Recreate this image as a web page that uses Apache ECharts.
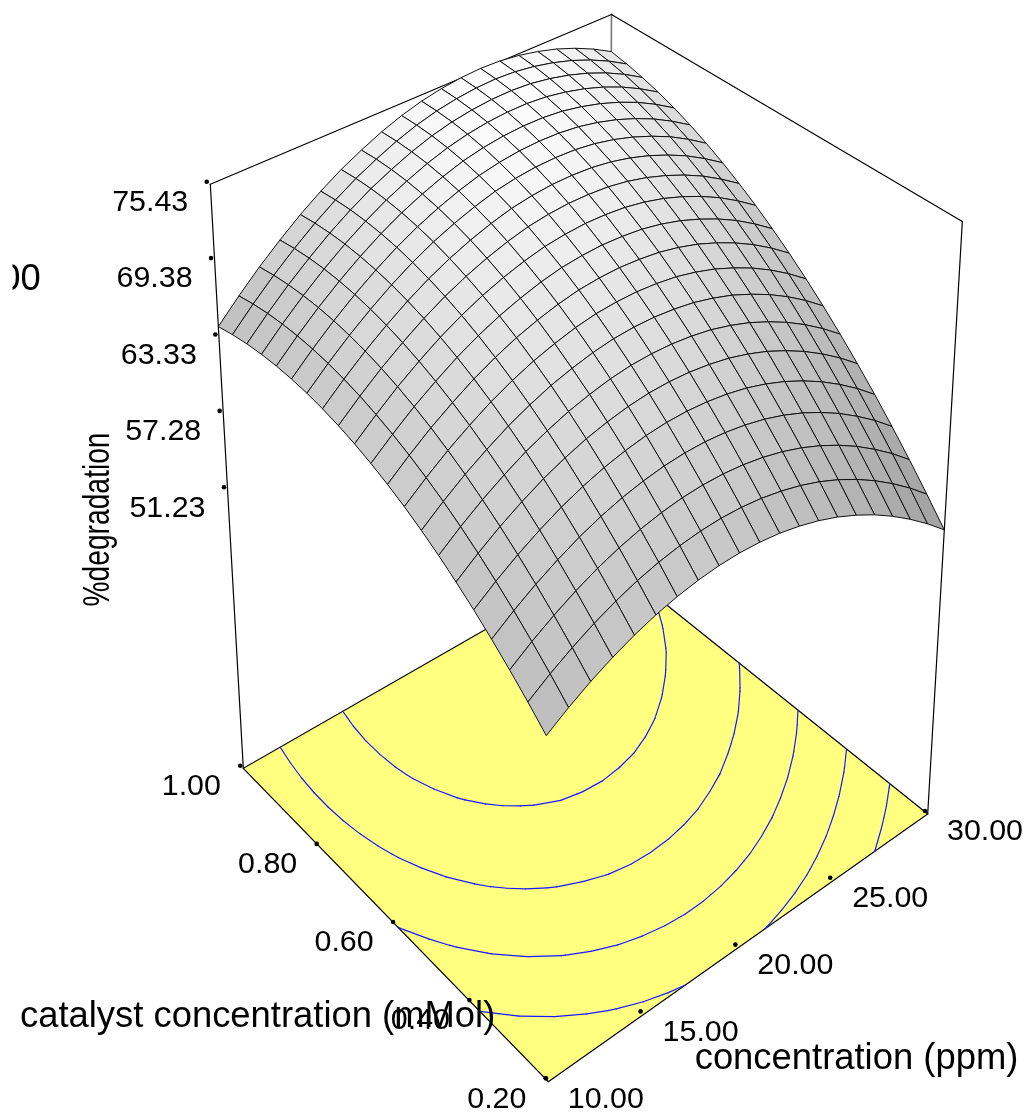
<!DOCTYPE html>
<html>
<head>
<meta charset="utf-8">
<style>html,body{margin:0;padding:0;background:#fff}#c{width:1031px;height:1115px}</style>
<script src="https://cdn.jsdelivr.net/npm/echarts@6/dist/echarts.min.js"></script>
</head>
<body>
<div id="c"></div>
<script>
// ---- data ----
const concentrationGrid = [10,11,12,13,14,15,16,17,18,19,20,21,22,23,24,25,26,27,28,29,30];
const catalystGrid = [0.20,0.24,0.28,0.32,0.36,0.40,0.44,0.48,0.52,0.56,0.60,0.64,0.68,0.72,0.76,0.80,0.84,0.88,0.92,0.96,1.00];
// degradation[catalyst index][concentration index]
const degradation = [
[54.56,55.64,56.59,57.41,58.10,58.66,59.08,59.38,59.55,59.59,59.49,59.27,58.91,58.43,57.82,57.07,56.20,55.19,54.05,52.79,51.39],
[55.86,56.97,57.94,58.79,59.51,60.10,60.55,60.87,61.07,61.14,61.07,60.87,60.54,60.09,59.51,58.79,57.94,56.96,55.85,54.62,53.24],
[57.07,58.21,59.21,60.09,60.84,61.45,61.93,62.28,62.51,62.60,62.56,62.39,62.09,61.67,61.11,60.42,59.60,58.65,57.56,56.36,55.01],
[58.20,59.37,60.40,61.30,62.08,62.72,63.23,63.60,63.86,63.98,63.97,63.82,63.55,63.16,62.63,61.97,61.17,60.25,59.19,58.02,56.69],
[59.25,60.44,61.50,62.43,63.24,63.90,64.44,64.84,65.13,65.28,65.29,65.17,64.93,64.57,64.06,63.43,62.66,61.77,60.74,59.59,58.29],
[60.21,61.43,62.52,63.47,64.31,65.00,65.57,65.99,66.31,66.49,66.53,66.44,66.22,65.89,65.41,64.81,64.06,63.20,62.20,61.08,59.81],
[61.09,62.33,63.45,64.43,65.30,66.01,66.61,67.06,67.41,67.62,67.68,67.62,67.43,67.13,66.67,66.10,65.38,64.55,63.58,62.48,61.24],
[61.88,63.15,64.30,65.30,66.20,66.94,67.57,68.04,68.42,68.66,68.75,68.72,68.55,68.28,67.85,67.31,66.61,65.81,64.87,63.80,62.59],
[62.59,63.88,65.06,66.09,67.02,67.79,68.44,68.94,69.35,69.62,69.73,69.73,69.59,69.35,68.95,68.43,67.76,66.99,66.08,65.03,63.85],
[63.21,64.53,65.74,66.79,67.75,68.55,69.23,69.76,70.19,70.49,70.63,70.66,70.54,70.33,69.96,69.47,68.83,68.08,67.20,66.18,65.03],
[63.75,65.09,66.33,67.41,68.40,69.23,69.93,70.49,70.95,71.28,71.44,71.50,71.41,71.23,70.89,70.42,69.81,69.09,68.24,67.24,66.12],
[64.20,65.57,66.84,67.95,68.96,69.82,70.55,71.14,71.62,71.98,72.17,72.26,72.20,72.04,71.73,71.29,70.71,70.01,69.19,68.22,67.13],
[64.57,65.97,67.26,68.40,69.44,70.33,71.08,71.70,72.21,72.60,72.82,72.93,72.90,72.77,72.49,72.07,71.52,70.85,70.06,69.11,68.05],
[64.85,66.28,67.60,68.77,69.83,70.75,71.53,72.18,72.71,73.13,73.38,73.52,73.52,73.41,73.16,72.77,72.25,71.60,70.84,69.92,68.89],
[65.05,66.51,67.85,69.05,70.14,71.09,71.90,72.57,73.13,73.58,73.86,74.02,74.05,73.97,73.75,73.38,72.89,72.27,71.54,70.65,69.64],
[65.16,66.65,68.02,69.25,70.36,71.34,72.18,72.88,73.47,73.94,74.25,74.44,74.50,74.44,74.25,73.91,73.45,72.86,72.15,71.29,70.31],
[65.19,66.71,68.10,69.36,70.50,71.51,72.38,73.10,73.72,74.22,74.56,74.77,74.86,74.83,74.67,74.35,73.92,73.36,72.68,71.85,70.89],
[65.13,66.68,68.10,69.39,70.56,71.59,72.49,73.24,73.89,74.41,74.78,75.02,75.14,75.14,75.00,74.71,74.31,73.78,73.12,72.32,71.39],
[64.99,66.57,68.02,69.33,70.53,71.59,72.52,73.29,73.97,74.52,74.92,75.18,75.33,75.36,75.25,74.99,74.61,74.11,73.48,72.71,71.80],
[64.76,66.37,67.85,69.19,70.42,71.50,72.46,73.26,73.97,74.54,74.97,75.26,75.44,75.50,75.41,75.18,74.83,74.36,73.75,73.01,72.13],
[64.45,66.09,67.60,68.96,70.22,71.33,72.32,73.14,73.88,74.48,74.94,75.26,75.46,75.55,75.49,75.29,74.96,74.52,73.94,73.23,72.38]
];
const contourLevels = [55.26,59.30,63.33,67.37,71.40];
const degradationTicks = ['75.43','69.38','63.33','57.28','51.23'];
const catalystTicks = ['1.00','0.80','0.60','0.40','0.20'];
const concentrationTicks = ['10.00','15.00','20.00','25.00','30.00'];

// ---- perspective camera of the box ----
const P00=[548.3,1081.7], P10=[927.7,814], P01=[243.3,768.3], P11=[609,558.7], TOPL=184.3, VP=[581,6746];
const dx1=P10[0]-P11[0], dx2=P01[0]-P11[0], sx=P00[0]-P10[0]+P11[0]-P01[0];
const dy1=P10[1]-P11[1], dy2=P01[1]-P11[1], sy=P00[1]-P10[1]+P11[1]-P01[1];
const den=dx1*dy2-dx2*dy1, G=(sx*dy2-dx2*sy)/den, K=(dx1*sy-sx*dy1)/den;
const S=(P01[1]-TOPL)/(TOPL-VP[1])*(1+K);
const BOX_MIN=27.03, BOX_RANGE=48.4;
function camera(u,v,w){
  const h=1+G*u+K*v+w*S;
  const X=P00[0]+(P10[0]*(1+G)-P00[0])*u+(P01[0]*(1+K)-P00[0])*v+w*S*VP[0];
  const Y=P00[1]+(P10[1]*(1+G)-P00[1])*u+(P01[1]*(1+K)-P00[1])*v+w*S*VP[1];
  return [X/h,Y/h];
}
function project(conc,cat,val){
  return camera((conc-10)/20,(cat-0.2)/0.8,(val-BOX_MIN)/BOX_RANGE);
}
const TOPV=BOX_MIN+BOX_RANGE;
const mix=(a,b,t)=>[a[0]+(b[0]-a[0])*t,a[1]+(b[1]-a[1])*t];
const shift=(p,d)=>[p[0]+d[0],p[1]+d[1]];

// cells, drawn from the far corner to the near one
const cells=[];
for(let j=0;j<20;j++)for(let i=0;i<20;i++)cells.push([i,j]);
cells.sort((a,b)=>(b[0]+b[1])-(a[0]+a[1]));

function shade(i,j){
  const r=degradation;
  const du=(r[j][i+1]+r[j+1][i+1]-r[j][i]-r[j+1][i])/2*20;
  const dv=(r[j+1][i]+r[j+1][i+1]-r[j][i]-r[j][i+1])/2*20;
  const g=Math.sqrt(du*du+dv*dv);
  const c=Math.round(254/Math.sqrt(1+(g*g)/(39*39)));
  return 'rgb('+c+','+c+','+c+')';
}

function contourSegments(level){
  const segs=[], r=degradation, C=concentrationGrid, A=catalystGrid;
  for(let j=0;j<20;j++)for(let i=0;i<20;i++){
    if(i===0&&j===0)continue;
    const c=[[i,j],[i+1,j],[i+1,j+1],[i,j+1]], pts=[];
    for(let e=0;e<4;e++){
      const a=c[e],b=c[(e+1)%4],va=r[a[1]][a[0]],vb=r[b[1]][b[0]];
      if((va<level)!==(vb<level)){
        const t=(level-va)/(vb-va);
        pts.push([C[a[0]]+(C[b[0]]-C[a[0]])*t, A[a[1]]+(A[b[1]]-A[a[1]])*t]);
      }
    }
    if(pts.length===2)segs.push(pts);
  }
  return segs;
}

const FONT='"Liberation Sans", Arial, sans-serif', FS=30.4, TFS=36.4;
function txt(api,p,s,fs,o){
  const q=api.coord(p);
  const align=(o&&o.align)||'center';
  const el={type:'text',x:q[0],y:q[1],silent:true,
    style:{text:s,fontFamily:FONT,fontSize:fs,fill:'#000',align,verticalAlign:'middle'}};
  if(o&&o.rotation!==undefined)el.rotation=o.rotation;
  if(o&&o.scaleX!==undefined)el.scaleX=o.scaleX;
  return el;
}
function polyEl(api,pts,style){
  return {type:'polygon',silent:true,shape:{points:pts.map(p=>api.coord(p))},style};
}
function lineEl(api,a,b,stroke,w){
  const p=api.coord(a),q=api.coord(b);
  return {type:'line',silent:true,shape:{x1:p[0],y1:p[1],x2:q[0],y2:q[1]},style:{stroke,lineWidth:w,lineCap:'round'}};
}
function custom(data,renderItem){
  return {type:'custom',coordinateSystem:'cartesian2d',data,renderItem,clip:false,silent:true,animation:false};
}

// corners of the box
const cF=[10,0.2],cR=[30,0.2],cL=[10,1],cB=[30,1];
const fl=(c,v)=>project(c[0],c[1],v);

const boxSeries=custom([0],(p,api)=>({type:'group',children:[
  lineEl(api,fl(cL,BOX_MIN),fl(cL,TOPV),'#000',1.2),
  lineEl(api,fl(cR,BOX_MIN),fl(cR,TOPV),'#000',1.2),
  lineEl(api,fl(cB,BOX_MIN),fl(cB,TOPV),'#777',1.6),
  lineEl(api,fl(cL,TOPV),fl(cB,TOPV),'#000',1.2),
  lineEl(api,fl(cR,TOPV),fl(cB,TOPV),'#000',1.2)
]}));
const floorSeries=custom([0],(p,api)=>polyEl(api,[fl(cF,BOX_MIN),fl(cR,BOX_MIN),fl(cB,BOX_MIN),fl(cL,BOX_MIN)],
  {fill:'#ffff80',stroke:'#000',lineWidth:1.2,lineJoin:'miter'}));
const contourSeries=custom(contourLevels,(p,api)=>({type:'group',children:
  contourSegments(contourLevels[p.dataIndex]).map(s=>
    lineEl(api,project(s[0][0],s[0][1],BOX_MIN),project(s[1][0],s[1][1],BOX_MIN),'#1a1aff',1.2))}));
const surfaceSeries=custom(cells,(p,api)=>{
  const [i,j]=cells[p.dataIndex],C=concentrationGrid,A=catalystGrid,r=degradation;
  const pts=[[i,j],[i+1,j],[i+1,j+1],[i,j+1]].map(q=>project(C[q[0]],A[q[1]],r[q[1]][q[0]]));
  return polyEl(api,pts,{fill:shade(i,j),stroke:'#111',lineWidth:1.0,lineJoin:'round'});
});

const zA=shift(fl(cL,TOPV),[-3.6,-2.6]), zB=shift(fl(cL,BOX_MIN+BOX_RANGE/2),[-3.6,-2.6]);
const catA=shift(fl(cL,BOX_MIN),[-3,-2.5]), catB=shift(fl(cF,BOX_MIN),[-2.5,-3.5]);
const conA=shift(fl(cF,BOX_MIN),[-2.5,-3.5]), conB=shift(fl(cR,BOX_MIN),[-2.7,-3]);
const tickAt=(a,b,k)=>mix(a,b,k/4);
const dot=(api,pt)=>{const q=api.coord(pt);return {type:'circle',silent:true,shape:{cx:q[0],cy:q[1],r:2.3},style:{fill:'#000'}};};

const tickSeries=custom([0],(p,api)=>{
  const ch=[];
  degradationTicks.forEach((t,k)=>{const d=tickAt(zA,zB,k);ch.push(dot(api,d),txt(api,shift(d,[-56.5,21]),t,FS));});
  catalystTicks.forEach((t,k)=>{const d=tickAt(catA,catB,k);ch.push(dot(api,d),txt(api,shift(d,[-49,21]),t,FS));});
  concentrationTicks.forEach((t,k)=>{const d=tickAt(conA,conB,k);ch.push(dot(api,d),txt(api,shift(d,[60,21]),t,FS));});
  // axis titles
  ch.push(txt(api,[20,1017],'catalyst concentration (mMol)',TFS,{align:'left'}));
  ch.push(txt(api,[856.5,1059],'concentration (ppm)',TFS));
  ch.push(txt(api,[98.5,519.5],'%degradation',TFS,{rotation:Math.PI/2,scaleX:0.775}));
  // design point count, cut off by the left edge of the plot in the source
  ch.push(txt(api,[20.5,280],'00',TFS));
  const m=api.coord([0,250]),n=api.coord([12.5,310]);
  ch.push({type:'rect',silent:true,shape:{x:m[0],y:m[1],width:n[0]-m[0],height:n[1]-m[1]},style:{fill:'#fff'}});
  return {type:'group',children:ch};
});

const chart=echarts.init(document.getElementById('c'),null,{renderer:'canvas'});
chart.setOption({
  animation:false,
  backgroundColor:'#fff',
  grid:{left:0,right:0,top:0,bottom:0},
  xAxis:{type:'value',min:0,max:1031,show:false},
  yAxis:{type:'value',min:0,max:1115,inverse:true,show:false},
  series:[boxSeries,floorSeries,contourSeries,surfaceSeries,tickSeries]
});
</script>
</body>
</html>
